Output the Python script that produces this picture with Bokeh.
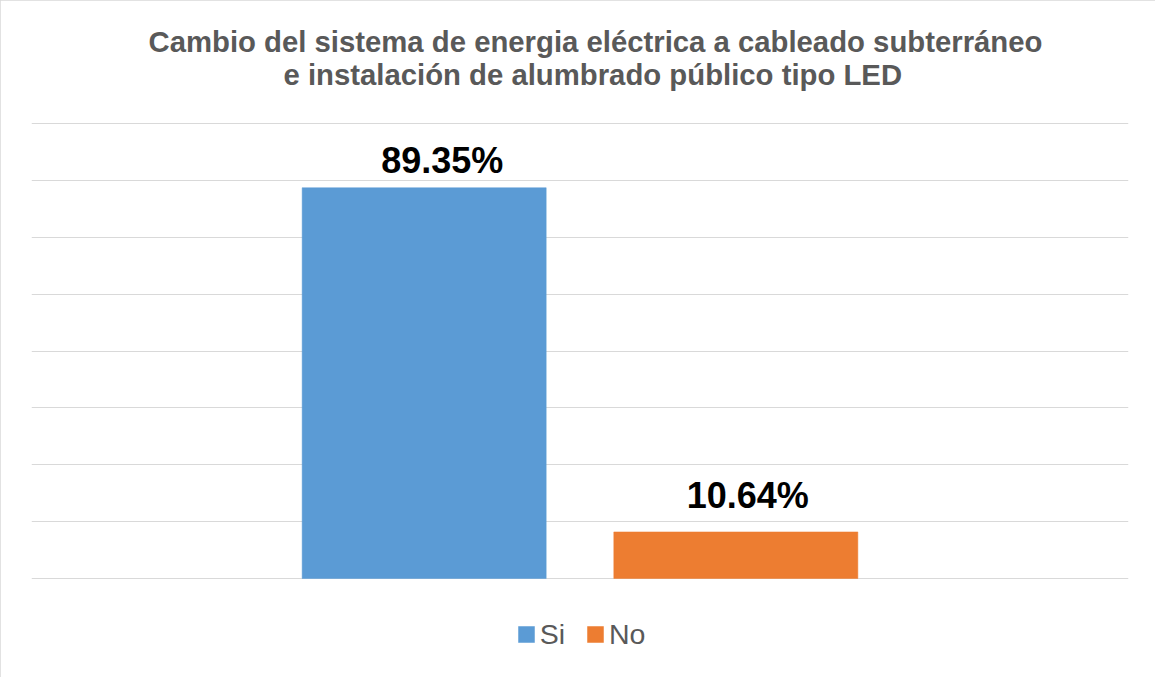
from bokeh.plotting import figure
from bokeh.models import (ColumnDataSource, FactorRange, Range1d, FixedTicker,
                          Title, Legend, LegendItem)
from bokeh.core.properties import value
from bokeh.embed import file_html
from bokeh.resources import INLINE

# ---- data ----
categories = ["Si", "No"]
percentages = [89.35, 10.64]
labels = ["89.35%", "10.64%"]
colors = ["#5B9BD5", "#ED7D31"]
title_line1 = "Cambio del sistema de energia eléctrica a cableado subterráneo"
title_line2 = "e instalación de alumbrado público tipo LED"
grid_step = 13
grid_max = 104

# label placement (screen pixels, styling only)
label_dx = [18, 12]
label_dy = [-27, -36]

src = ColumnDataSource(dict(cat=categories, val=percentages, lab=labels, col=colors,
                            dx=label_dx, dy=label_dy))

FONT = "Liberation Sans"

p = figure(
    width=1155, height=677,
    x_range=FactorRange(factors=categories, range_padding=0.76, range_padding_units="percent"),
    y_range=Range1d(-21.5, grid_max + 0.5),
    output_backend="svg", toolbar_location=None, title=None,
    min_border_left=31, min_border_right=27, min_border_top=121, min_border_bottom=5,
)
p.outline_line_color = None
p.background_fill_color = "white"
p.border_fill_color = "white"
p.xaxis.visible = False
p.yaxis.visible = False
p.xgrid.visible = False
p.ygrid.ticker = FixedTicker(ticks=list(range(0, grid_max + 1, grid_step)))
p.ygrid.grid_line_color = "#D9D9D9"
p.ygrid.grid_line_width = 1
p.styles = {"outline": "2px solid #D9D9D9", "outline-offset": "-2px"}

bars = p.vbar(x="cat", top="val", bottom=0, width=0.783, source=src, fill_color="col",
              line_color="col", line_width=0.5)

p.text(x="cat", y="val", text="lab", source=src, x_offset="dx", y_offset="dy",
       text_align="center", text_baseline="alphabetic",
       text_font=value(FONT), text_font_style="bold",
       text_font_size="36px", text_color="black")

# title: line 2 is added first (closest to the frame), then line 1
p.add_layout(Title(text=title_line2, align="left", offset=252, standoff=61,
                   text_font=FONT, text_font_style="bold", text_font_size="29.3px",
                   text_color="#595959"), "above")
p.add_layout(Title(text=title_line1, align="left", offset=117, standoff=-65,
                   text_font=FONT, text_font_style="bold", text_font_size="29.3px",
                   text_color="#595959"), "above")

legend = Legend(
    items=[LegendItem(label=value(c), renderers=[bars], index=i) for i, c in enumerate(categories)],
    location=(484.7, 21.5), orientation="horizontal",
    glyph_width=20, glyph_height=20, label_standoff=4, spacing=20, label_height=33,
    padding=0, margin=0, border_line_color=None, background_fill_alpha=0,
    label_text_font=FONT, label_text_font_size="28.5px", label_text_color="#595959",
)
p.add_layout(legend, "center")

open("out.html", "w").write(file_html(p, INLINE))
